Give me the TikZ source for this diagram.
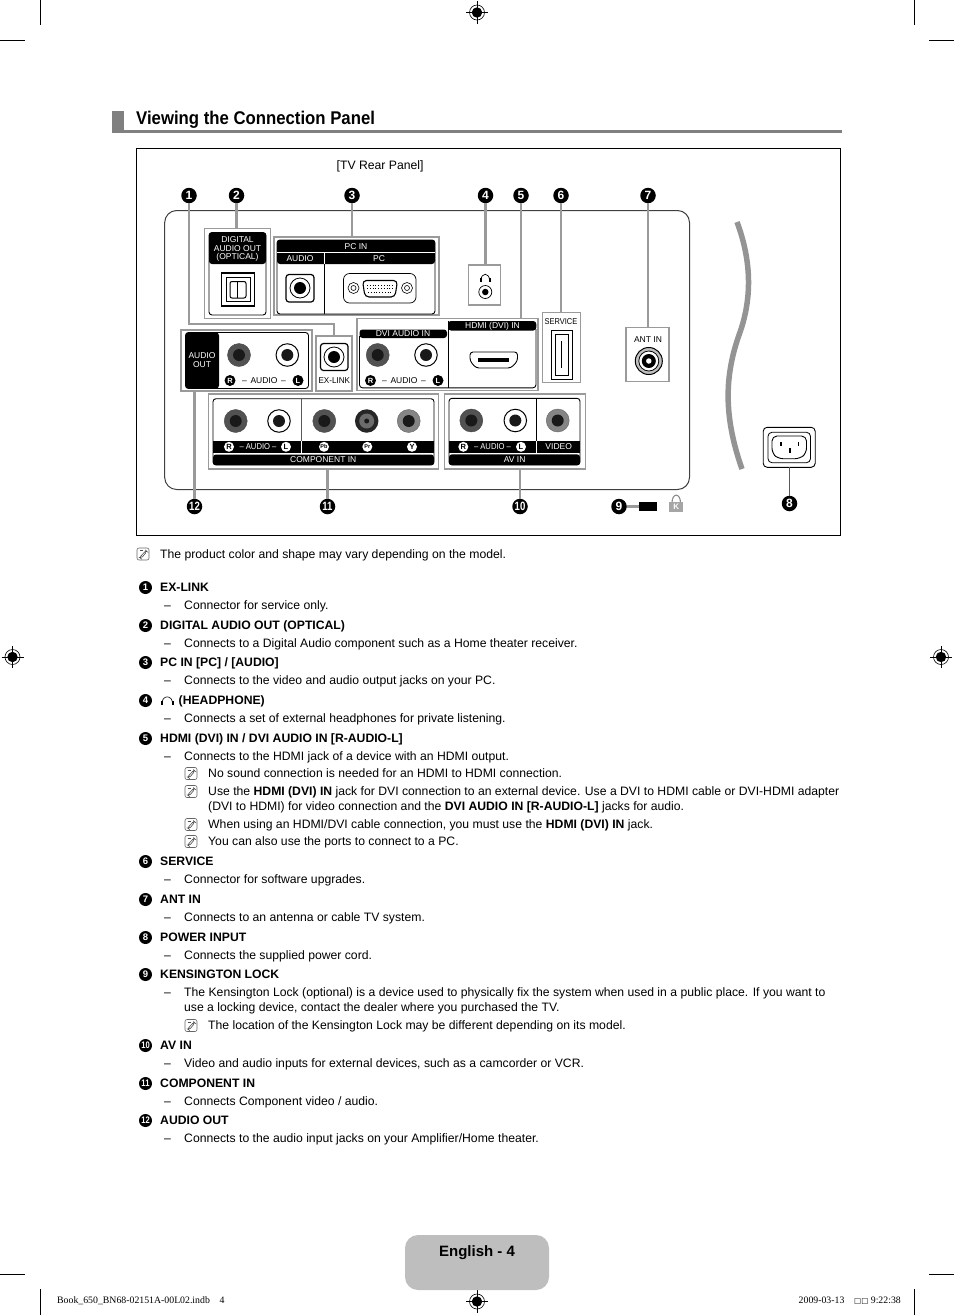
\documentclass[tikz,border=0pt]{standalone}
\usepackage{fontspec}
\usepackage{xcolor}
\setmainfont{Liberation Sans}
\newfontfamily\footfont{Liberation Serif}
\newfontfamily\boxfont{DejaVu Sans}
\usetikzlibrary{calc}
\definecolor{feedgray}{HTML}{9A9A9A}
\definecolor{barcol}{HTML}{808080}
\definecolor{tabcol}{HTML}{BEBEBE}
\newcommand{\lblsize}{\fontsize{8.5}{9}\selectfont}
\newcommand{\nar}[1]{\scalebox{.8}[1]{#1}}
\tikzstyle{greybox}=[rectangle, draw=feedgray, fill=white, line width=1.6pt, inner sep=0, outer sep=0]
\tikzstyle{panel}=[draw=black, line width=0.9pt, rounded corners=3pt]
\tikzstyle{feed}=[draw=feedgray, line width=2.2pt]
\tikzstyle{callnum}=[circle, fill=black, text=white, minimum size=15.5, inner sep=0, font=\bfseries\fontsize{12}{12}\selectfont]
\tikzstyle{listnum}=[circle, fill=black, text=white, minimum size=13, inner sep=0, font=\bfseries\fontsize{9.5}{9}\selectfont]
\tikzstyle{jackdark}=[circle, fill=black!68, draw=black!72, minimum size=23, inner sep=0]
\tikzstyle{jackwhite}=[circle, fill=white, draw=black, line width=1pt, minimum size=22.5, inner sep=0]
\tikzstyle{jackgray}=[circle, fill=black!48, draw=black!60, minimum size=23, inner sep=0]
\tikzstyle{jackcore}=[circle, fill=black!90, minimum size=12, inner sep=0]
\tikzstyle{chanblk}=[circle, fill=black, text=white, minimum size=11, inner sep=0, font=\bfseries\fontsize{7.5}{8}\selectfont]
\tikzstyle{chanwht}=[circle, fill=white, text=black, minimum size=10, inner sep=0, font=\bfseries\fontsize{7.5}{8}\selectfont]
\tikzstyle{blabel}=[inner sep=0, font=\lblsize]
\tikzstyle{wlabel}=[inner sep=0, text=white, font=\lblsize]
\tikzstyle{txt}=[anchor=west, inner sep=0, text height=10.8, text depth=2.6, font=\fontsize{12.2}{14}\selectfont]
\tikzstyle{btxt}=[txt, font=\bfseries\fontsize{12.2}{14}\selectfont]
\tikzstyle{noteic}=[draw=black!60, line width=0.6pt, rounded corners=2pt, minimum size=12, inner sep=0,
  path picture={\draw[draw=black!70, line width=0.6pt] ($(path picture bounding box.center)+(-3.5,3.5)$) -- ($(path picture bounding box.center)+(3,-3.5)$) -- ($(path picture bounding box.center)+(4,-2.5)$) -- ($(path picture bounding box.center)+(-2,4.5)$) -- cycle;
  \draw[draw=black!70, line width=0.5pt] ($(path picture bounding box.center)+(-3.5,-3.5)$) -- ($(path picture bounding box.center)+(0,-3.5)$);}]
\tikzstyle{regmark}=[circle, draw=black, line width=0.6pt, minimum size=15, inner sep=0,
  path picture={\fill (path picture bounding box.center) circle (5.2pt);
  \draw[white, line width=1pt] ($(path picture bounding box.center)+(-6,0)$) -- ($(path picture bounding box.center)+(6,0)$);
  \draw[white, line width=1pt] ($(path picture bounding box.center)+(0,-6)$) -- ($(path picture bounding box.center)+(0,6)$);}]
\tikzstyle{crop}=[draw=black, line width=0.7pt]

\begin{document}
\begin{tikzpicture}[x=1pt,y=-1pt]
\useasboundingbox (0,0) rectangle (954,1315);

% crop marks
\draw[crop] (40.5,0) -- (40.5,25);
\draw[crop] (0,40.5) -- (25,40.5);
\draw[crop] (914,0) -- (914,25);
\draw[crop] (929,40.5) -- (954,40.5);
\draw[crop] (0,1274) -- (25,1274);
\draw[crop] (929,1274) -- (954,1274);
\draw[crop] (40.5,1289) -- (40.5,1315);
\draw[crop] (914,1289) -- (914,1315);
\node[regmark] (reg1) at (477,12.5) {};
\node[regmark] (reg2) at (477,1301.5) {};
\node[regmark] (reg3) at (12.5,657) {};
\node[regmark] (reg4) at (941,657) {};
\draw[crop,line width=0.4pt] (477,1) -- (477,24);
\draw[crop,line width=0.4pt] (466,12.5) -- (488,12.5);
\draw[crop,line width=0.4pt] (477,1290) -- (477,1313);
\draw[crop,line width=0.4pt] (466,1301.5) -- (488,1301.5);
\draw[crop,line width=0.4pt] (12.5,646) -- (12.5,668);
\draw[crop,line width=0.4pt] (1.5,657) -- (23.5,657);
\draw[crop,line width=0.4pt] (941,646) -- (941,668);
\draw[crop,line width=0.4pt] (930,657) -- (952,657);

% heading
\fill[barcol] (112,111) rectangle (124,132);
\fill[barcol] (112,130) rectangle (842,132.5);
\node[anchor=west, inner sep=0, font=\bfseries\fontsize{18.4}{20}\selectfont] (title) at (136,119.5) {\scalebox{.91}[1]{Viewing the Connection Panel}};

% frame and tv outline
\draw[line width=0.9pt] (136.5,148) rectangle (840.5,535.5);
\draw[line width=1pt, draw=black!75, rounded corners=12pt] (164.7,210.5) rectangle (689.5,489.5);
\node[txt] (rear) at (336.5,165) {[TV Rear Panel]};
\draw[line width=5.5pt, draw=black!42] (737,222) .. controls (752,262) and (752,300) .. (739,335) .. controls (725,375) and (723,415) .. (742,469);

% grey boxes
\node[greybox, minimum width=66, minimum height=90] (bdigital) at (237.4,273.5) {};
\node[greybox, minimum width=165, minimum height=78] (bpc) at (356.2,276.2) {};
\node[greybox, minimum width=32, minimum height=40] (bphone) at (484.5,284.7) {};
\node[greybox, minimum width=131, minimum height=61] (baudio) at (246.6,360.3) {};
\node[greybox, minimum width=36, minimum height=55] (bexlink) at (334,363.5) {};
\node[greybox, minimum width=181, minimum height=72] (bhdmi) at (447.7,354.5) {};
\node[greybox, minimum width=38, minimum height=70] (bservice) at (561.5,347.5) {};
\node[greybox, minimum width=43, minimum height=54] (bant) at (647.5,354.5) {};
\node[greybox, minimum width=230, minimum height=75] (bcomp) at (323.3,431.7) {};
\node[greybox, minimum width=141, minimum height=75] (bav) at (515,431.5) {};

% digital audio out
\fill[black, rounded corners=3pt] (209,232.5) -- (266,232.5) -- (266,264) -- (209,264) -- cycle;
\draw[panel] (209,232.5) rectangle (266,315);
\node[wlabel] (d1) at (237.5,239.5) {DIGITAL};
\node[wlabel] (d2) at (237.5,248.5) {AUDIO OUT};
\node[wlabel] (d3) at (237.5,257) {(OPTICAL)};
\draw[line width=1.4pt] (221.5,273) rectangle (254.5,306);
\draw[line width=0.7pt] (226,277.5) rectangle (250,301);
\draw[line width=1pt, rounded corners=2pt] (230,281.5) rectangle (246,298);
\draw[line width=1pt] (237.5,281.5) -- (237.5,298);

% pc in
\draw[panel] (277,240) rectangle (435,314);
\fill[black, rounded corners=3pt] (277,240) -- (435,240) -- (435,264) -- (277,264) -- cycle;
\draw[white, line width=0.7pt] (277,252.7) -- (435,252.7);
\draw[white, line width=0.7pt] (324.3,252.7) -- (324.3,264);
\draw[line width=0.8pt] (324.3,264) -- (324.3,314);
\node[wlabel] (p1) at (356,246.3) {PC IN};
\node[wlabel] (p2) at (300,258.5) {AUDIO};
\node[wlabel] (p3) at (379,258.5) {PC};
\draw[line width=1.2pt, rounded corners=3pt] (286,274.5) rectangle (314,302);
\node[circle, draw=black, line width=0.8pt, minimum size=20, inner sep=0] (pj1) at (300,288) {};
\node[circle, fill=black, minimum size=12, inner sep=0] (pj2) at (300,288) {};
\draw[line width=0.7pt, rounded corners=6pt] (343.5,273.5) rectangle (416,303);
\node[circle, draw=black, line width=0.6pt, minimum size=11, inner sep=0] (ps1) at (353.5,288) {};
\node[circle, draw=black, line width=0.6pt, minimum size=5, inner sep=0] (ps2) at (353.5,288) {};
\node[circle, draw=black, line width=0.6pt, minimum size=11, inner sep=0] (ps3) at (407,288) {};
\node[circle, draw=black, line width=0.6pt, minimum size=5, inner sep=0] (ps4) at (407,288) {};
\draw[line width=1.1pt, rounded corners=4pt] (362.5,280.5) -- (397.5,280.5) -- (395,297) -- (365,297) -- cycle;
\draw[line width=0.8pt, dotted] (367,285) -- (393,285);
\draw[line width=0.8pt, dotted] (367,288.5) -- (393,288.5);
\draw[line width=0.8pt, dotted] (368,292) -- (392,292);

% headphone
\draw[line width=0.7pt] (481,281) .. controls (480.5,272) and (490,272) .. (489.5,281);
\fill (480,278) rectangle (482,281.5);
\fill (488.5,278) rectangle (490.5,281.5);
\node[circle, draw=black, line width=0.7pt, minimum size=13, inner sep=0] (hj1) at (485.3,292) {};
\node[circle, fill=black, minimum size=6.5, inner sep=0] (hj2) at (485.3,292) {};

% audio out
\draw[panel] (185.5,332.5) rectangle (308.5,388.5);
\fill[black, rounded corners=3pt] (185.5,332.5) -- (219,332.5) -- (219,388.5) -- (185.5,388.5) -- cycle;
\node[wlabel] (a1) at (202,355.5) {AUDIO};
\node[wlabel] (a2) at (202,365) {OUT};
\node[jackdark] (aj1) at (239,355) {};
\node[jackcore] (aj1c) at (239,355) {};
\node[jackwhite] (aj2) at (287.3,355) {};
\node[jackcore] (aj2c) at (287.3,355) {};
\node[chanblk] (a3) at (230,380.5) {R};
\node[blabel] (a4) at (264,380.5) {-- \,AUDIO\, --};
\node[chanblk] (a5) at (298,380.5) {L};

% ex-link
\draw[line width=1.2pt, rounded corners=3pt] (320.5,343.5) rectangle (348,370.5);
\node[circle, draw=black, line width=0.8pt, minimum size=20, inner sep=0] (ej1) at (334,357) {};
\node[circle, fill=black, minimum size=12, inner sep=0] (ej2) at (334,357) {};
\node[blabel] (e1) at (334.3,381) {\scalebox{.95}[1]{EX-LINK}};

% dvi audio + hdmi
\draw[line width=0.9pt, rounded corners=3pt] (359.5,336) -- (359.5,387.8) -- (536,387.8) -- (536,329);
\fill[black, rounded corners=3pt] (359.5,329.5) -- (447,329.5) -- (447,338) -- (359.5,338) -- cycle;
\fill[black, rounded corners=3pt] (448,321) -- (536.3,321) -- (536.3,330.5) -- (448,330.5) -- cycle;
\draw[line width=0.8pt] (448.7,321) -- (448.7,388);
\node[wlabel] (h1) at (403,333.7) {DVI AUDIO IN};
\node[wlabel] (h2) at (492.5,326.6) {HDMI (DVI) IN};
\node[jackdark] (hj3) at (377.7,355) {};
\node[jackcore] (hj3c) at (377.7,355) {};
\node[jackwhite] (hj4) at (426,355) {};
\node[jackcore] (hj4c) at (426,355) {};
\node[chanblk] (h3) at (370.5,380.5) {R};
\node[blabel] (h4) at (404,380.5) {-- \,AUDIO\, --};
\node[chanblk] (h5) at (438,380.5) {L};
\draw[line width=0.9pt, rounded corners=3pt] (470,352) -- (517.5,352) -- (517.5,361) -- (511,368) -- (476,368) -- (470,361) -- cycle;
\fill (478,358.2) rectangle (508.5,361.8);

% service
\node[blabel] (s1) at (561,322) {\scalebox{.88}[1]{SERVICE}};
\draw[line width=0.9pt] (551,330) rectangle (572.3,379);
\draw[line width=0.7pt] (555.2,334) rectangle (568,375);
\draw[line width=1.2pt] (561.7,341) -- (561.7,368);

% ant in
\node[blabel] (t1) at (648,339.5) {ANT IN};
\node[circle, draw=black, fill=black!25, line width=1pt, minimum size=27, inner sep=0] (tj1) at (648.8,361) {};
\node[circle, draw=black, fill=white, line width=0.8pt, minimum size=20, inner sep=0] (tj2) at (648.8,361) {};
\node[circle, fill=black, minimum size=14, inner sep=0] (tj3) at (648.8,361) {};
\node[circle, fill=white, minimum size=5.5, inner sep=0] (tj4) at (648.8,361) {};

% component in
\draw[panel] (213,398.7) rectangle (434,465);
\fill[black] (213,440.7) rectangle (434,453);
\fill[black, rounded corners=3pt] (213,454.5) -- (434,454.5) -- (434,465) -- (213,465) -- cycle;
\draw[draw=black!65, line width=0.9pt] (301.3,398.7) -- (301.3,440.7);
\draw[white, line width=1pt] (301.3,440.7) -- (301.3,453);
\node[jackdark] (cj1) at (235.7,421) {};
\node[jackcore] (cj1c) at (235.7,421) {};
\node[jackwhite] (cj2) at (279,421) {};
\node[jackcore] (cj2c) at (279,421) {};
\node[jackdark] (cj3) at (324.3,421) {};
\node[jackcore] (cj3c) at (324.3,421) {};
\node[circle, fill=black!85, minimum size=23.5, inner sep=0] (cj4) at (366.7,421) {};
\node[circle, fill=black!58, minimum size=15, inner sep=0] (cj4m) at (366.7,421) {};
\node[circle, fill=black!90, minimum size=5, inner sep=0] (cj4c) at (366.7,421) {};
\node[jackgray] (cj5) at (408.7,421) {};
\node[jackcore] (cj5c) at (408.7,421) {};
\node[chanwht] (c1) at (229,446.8) {R};
\node[wlabel] (c2) at (258,446.8) {\scalebox{.9}[1]{-- AUDIO --}};
\node[chanwht] (c3) at (286,446.8) {L};
\node[chanwht, font=\bfseries\fontsize{5.5}{6}\selectfont] (c4) at (324,446.8) {Pb};
\node[chanwht, font=\bfseries\fontsize{5.5}{6}\selectfont] (c5) at (367.3,446.8) {Pr};
\node[chanwht] (c6) at (412,446.8) {Y};
\node[wlabel] (c7) at (323.3,459.7) {COMPONENT IN};

% av in
\draw[panel] (449,398.3) rectangle (580,465);
\fill[black] (449,440.5) rectangle (580,453);
\fill[black, rounded corners=3pt] (449,454.3) -- (580,454.3) -- (580,465) -- (449,465) -- cycle;
\draw[line width=0.8pt] (536.3,398.3) -- (536.3,440.5);
\draw[white, line width=0.8pt] (536.3,440.5) -- (536.3,453);
\node[jackdark] (vj1) at (471.3,420.5) {};
\node[jackcore] (vj1c) at (471.3,420.5) {};
\node[jackwhite] (vj2) at (515.3,420.5) {};
\node[jackcore] (vj2c) at (515.3,420.5) {};
\node[jackgray] (vj3) at (557.7,420.5) {};
\node[jackcore] (vj3c) at (557.7,420.5) {};
\node[chanwht] (v1) at (463.3,446.8) {R};
\node[wlabel] (v2) at (492.5,446.8) {\scalebox{.9}[1]{-- AUDIO --}};
\node[chanwht] (v3) at (521,446.8) {L};
\node[wlabel] (v4) at (558.7,446.8) {VIDEO};
\node[wlabel] (v5) at (514.7,459.5) {AV IN};

% kensington + power
\node[fill=black, minimum width=18, minimum height=8.5, inner sep=0] (klock) at (648,506.5) {};
\draw[draw=black!45, line width=1.1pt] (672,503) .. controls (672,492.5) and (680.5,492.5) .. (680.5,503);
\node[fill=black!35, text=white, minimum width=14, minimum height=10, inner sep=0, font=\bfseries\fontsize{8}{8}\selectfont] (kbody) at (676.2,506.7) {K};
\node[draw=black, fill=white, line width=0.9pt, rounded corners=4pt, minimum width=52, minimum height=40, inner sep=0, outer sep=0] (power) at (789.2,447.3) {};
\draw[line width=0.8pt, rounded corners=4pt] (768,432.3) rectangle (810.5,462.7);
\draw[line width=0.9pt, rounded corners=5pt] (772,436) -- (806.5,436) -- (806.5,453) -- (800,458.7) -- (778,458.7) -- (772,453) -- cycle;
\fill (780.3,441.5) rectangle (782,446);
\fill (797.5,441.5) rectangle (799.2,446);
\fill (789,448) rectangle (790.7,452.5);

% callouts
\node[callnum] (n1) at (189,195.5) {1};
\node[callnum] (n2) at (236.5,195.5) {2};
\node[callnum] (n3) at (352,195.5) {3};
\node[callnum] (n4) at (485.5,195.5) {4};
\node[callnum] (n5) at (521,195.5) {5};
\node[callnum] (n6) at (561,195.5) {6};
\node[callnum] (n7) at (648,195.5) {7};
\node[callnum] (n8) at (789.5,503.5) {8};
\node[callnum] (n9) at (619,506.5) {9};
\node[callnum] (n10) at (520,506.5) {\nar{10}};
\node[callnum] (n11) at (327.5,506.5) {\nar{11}};
\node[callnum] (n12) at (194.5,506.5) {\nar{12}};

\coordinate (bend1) at (189,324);
\coordinate (bend2) at (334,324);
\draw[feed] (n1) -- (bend1) -- (bend2) -- (bexlink);
\draw[feed] (n2) -- (n2 |- bdigital.north);
\draw[feed] (n3) -- (n3 |- bpc.north);
\draw[feed] (n4) -- (n4 |- bphone.north);
\draw[feed] (n5) -- (n5 |- bhdmi.north);
\draw[feed] (n6) -- (n6 |- bservice.north);
\draw[feed] (n7) -- (n7 |- bant.north);
\draw[feed] (n12) -- (n12 |- baudio.south);
\draw[feed] (n11) -- (n11 |- bcomp.south);
\draw[feed] (n10) -- (n10 |- bav.south);
\draw[feed] (n9) -- (klock);
\draw[draw=black!65, line width=1.3pt] (n8) -- (n8 |- power.south);

% notes and list
\node[noteic] (i0) at (143,554) {};
\node[txt] (t0) at (160,554) {The product color and shape may vary depending on the model.};

\node[listnum] (l1) at (145.5,587.5) {1};
\node[btxt] (h01) at (160,587.5) {EX-LINK};
\node[txt] (d01) at (164,605) {--};
\node[txt] (b01) at (184,605) {Connector for service only.};

\node[listnum] (l2) at (145.5,625.5) {2};
\node[btxt] (h02) at (160,625.5) {DIGITAL AUDIO OUT (OPTICAL)};
\node[txt] (d02) at (164,643) {--};
\node[txt] (b02) at (184,643) {Connects to a Digital Audio component such as a Home theater receiver.};

\node[listnum] (l3) at (145.5,662.5) {3};
\node[btxt] (h03) at (160,662.5) {PC IN [PC] / [AUDIO]};
\node[txt] (d03) at (164,680.5) {--};
\node[txt] (b03) at (184,680.5) {Connects to the video and audio output jacks on your PC.};

\node[listnum] (l4) at (145.5,700.5) {4};
\draw[line width=0.6pt] (162,704) .. controls (161.5,694.5) and (173,694.5) .. (172.5,704);
\fill (161,701) rectangle (163,705);
\fill (171.5,701) rectangle (173.5,705);
\node[btxt] (h04) at (178.5,700.5) {(HEADPHONE)};
\node[txt] (d04) at (164,718.5) {--};
\node[txt] (b04) at (184,718.5) {Connects a set of external headphones for private listening.};

\node[listnum] (l5) at (145.5,738.5) {5};
\node[btxt] (h05) at (160,738.5) {HDMI (DVI) IN / DVI AUDIO IN [R-AUDIO-L]};
\node[txt] (d05) at (164,756) {--};
\node[txt] (b05) at (184,756) {Connects to the HDMI jack of a device with an HDMI output.};
\node[noteic] (i1) at (191,773.5) {};
\node[txt] (b06) at (208,773.5) {No sound connection is needed for an HDMI to HDMI connection.};
\node[noteic] (i2) at (191,791.5) {};
\node[txt] (b07) at (208,791.5) {Use the \textbf{HDMI (DVI) IN} jack for DVI connection to an external device. Use a DVI to HDMI cable or DVI-HDMI adapter};
\node[txt] (b08) at (208,806.5) {(DVI to HDMI) for video connection and the \textbf{DVI AUDIO IN [R-AUDIO-L]} jacks for audio.};
\node[noteic] (i3) at (191,824.5) {};
\node[txt] (b09) at (208,824.5) {When using an HDMI/DVI cable connection, you must use the \textbf{HDMI (DVI) IN} jack.};
\node[noteic] (i4) at (191,841.5) {};
\node[txt] (b10) at (208,841.5) {You can also use the ports to connect to a PC.};

\node[listnum] (l6) at (145.5,861.5) {6};
\node[btxt] (h06) at (160,861.5) {SERVICE};
\node[txt] (d06) at (164,879.5) {--};
\node[txt] (b11) at (184,879.5) {Connector for software upgrades.};

\node[listnum] (l7) at (145.5,899.5) {7};
\node[btxt] (h07) at (160,899.5) {ANT IN};
\node[txt] (d07) at (164,917.5) {--};
\node[txt] (b12) at (184,917.5) {Connects to an antenna or cable TV system.};

\node[listnum] (l8) at (145.5,937.5) {8};
\node[btxt] (h08) at (160,937.5) {POWER INPUT};
\node[txt] (d08) at (164,955) {--};
\node[txt] (b13) at (184,955) {Connects the supplied power cord.};

\node[listnum] (l9) at (145.5,974.5) {9};
\node[btxt] (h09) at (160,974.5) {KENSINGTON LOCK};
\node[txt] (d09) at (164,992.5) {--};
\node[txt] (b14) at (184,992.5) {The Kensington Lock (optional) is a device used to physically fix the system when used in a public place. If you want to};
\node[txt] (b15) at (184,1007.5) {use a locking device, contact the dealer where you purchased the TV.};
\node[noteic] (i5) at (191,1025.5) {};
\node[txt] (b16) at (208,1025.5) {The location of the Kensington Lock may be different depending on its model.};

\node[listnum] (l10) at (145.5,1045.5) {\nar{10}};
\node[btxt] (h10) at (160,1045.5) {AV IN};
\node[txt] (d10) at (164,1063.5) {--};
\node[txt] (b17) at (184,1063.5) {Video and audio inputs for external devices, such as a camcorder or VCR.};

\node[listnum] (l11) at (145.5,1083.5) {\nar{11}};
\node[btxt] (h11) at (160,1083.5) {COMPONENT IN};
\node[txt] (d11) at (164,1101) {--};
\node[txt] (b18) at (184,1101) {Connects Component video / audio.};

\node[listnum] (l12) at (145.5,1120.5) {\nar{12}};
\node[btxt] (h12) at (160,1120.5) {AUDIO OUT};
\node[txt] (d12) at (164,1138.5) {--};
\node[txt] (b19) at (184,1138.5) {Connects to the audio input jacks on your Amplifier/Home theater.};

% footer
\fill[tabcol, rounded corners=13pt] (405,1290) -- (405,1235) -- (549,1235) -- (549,1290) -- cycle;
\node[inner sep=0, font=\bfseries\fontsize{15}{16}\selectfont] (page) at (477,1252.5) {English - 4};
\node[anchor=west, inner sep=0, font=\footfont\fontsize{9.8}{10}\selectfont] (f1) at (57,1301) {Book\_650\_BN68-02151A-00L02.indb\quad 4};
\node[anchor=east, inner sep=0, font=\footfont\fontsize{9.8}{10}\selectfont] (f2) at (901,1301) {2009-03-13\quad {\boxfont\fontsize{7.5}{6}\selectfont □□} 9:22:38};
\end{tikzpicture}
\end{document}
